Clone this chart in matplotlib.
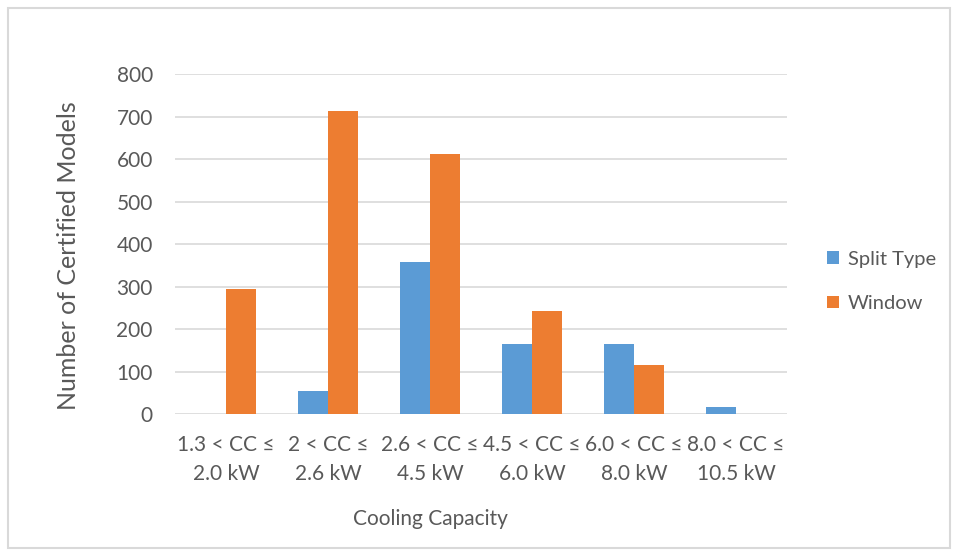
import matplotlib
matplotlib.use("Agg")
import matplotlib.pyplot as plt
import numpy as np
from matplotlib.patches import Rectangle

plt.rcParams['font.family'] = ['Lato', 'DejaVu Sans']

categorias = ["1.3 < CC ≤\n2.0 kW", "2 < CC ≤\n2.6 kW", "2.6 < CC ≤\n4.5 kW",
              "4.5 < CC ≤\n6.0 kW", "6.0 < CC ≤\n8.0 kW", "8.0 < CC ≤\n10.5 kW"]
split_type = [0, 55, 357, 164, 164, 16]
window = [294, 713, 612, 242, 116, 0]

gris_texto = '#595959'
azul = '#5B9BD5'
naranja = '#ED7D31'

fig = plt.figure(figsize=(9.58, 5.51), dpi=100)
ax = fig.add_axes([0.1827, 0.2486, 0.8215 - 0.1827, 0.8657 - 0.2486])

x = np.arange(len(categorias))
ancho = 0.295
ax.bar(x - ancho / 2, split_type, ancho, color=azul, label='Split Type', zorder=3)
ax.bar(x + ancho / 2, window, ancho, color=naranja, label='Window', zorder=3)

ax.set_xlim(-0.5, len(categorias) - 0.5)
ax.set_ylim(0, 800)
ax.set_yticks(range(0, 801, 100))
ax.set_xticks(x)
ax.set_xticklabels(categorias, linespacing=1.6)
ax.yaxis.grid(True, color='#D9D9D9', linewidth=1.2, zorder=0)

for lado in ax.spines:
    ax.spines[lado].set_visible(False)
ax.tick_params(axis='both', length=0, labelsize=15, colors=gris_texto)
ax.tick_params(axis='y', pad=16)
ax.tick_params(axis='x', pad=15)

ax.set_xlabel('Cooling Capacity', fontsize=15, color=gris_texto)
ax.xaxis.set_label_coords(0.418, -0.28)
ax.set_ylabel('Number of Certified Models', fontsize=18, color=gris_texto)
ax.yaxis.set_label_coords(-0.155, 0.465)

leg = ax.legend(loc='center left', bbox_to_anchor=(1.035, 0.39), frameon=False,
                fontsize=14.5, handlelength=0.6, handleheight=0.6,
                handletextpad=0.45, labelspacing=1.35)
for texto in leg.get_texts():
    texto.set_color(gris_texto)

# marco exterior del gráfico
fig.patches.append(Rectangle((8 / 958, 3 / 551), 942 / 958, 540 / 551,
                             transform=fig.transFigure, fill=False,
                             edgecolor='#D9D9D9', linewidth=1.5))

fig.savefig('out.png', dpi=100, facecolor='white')
